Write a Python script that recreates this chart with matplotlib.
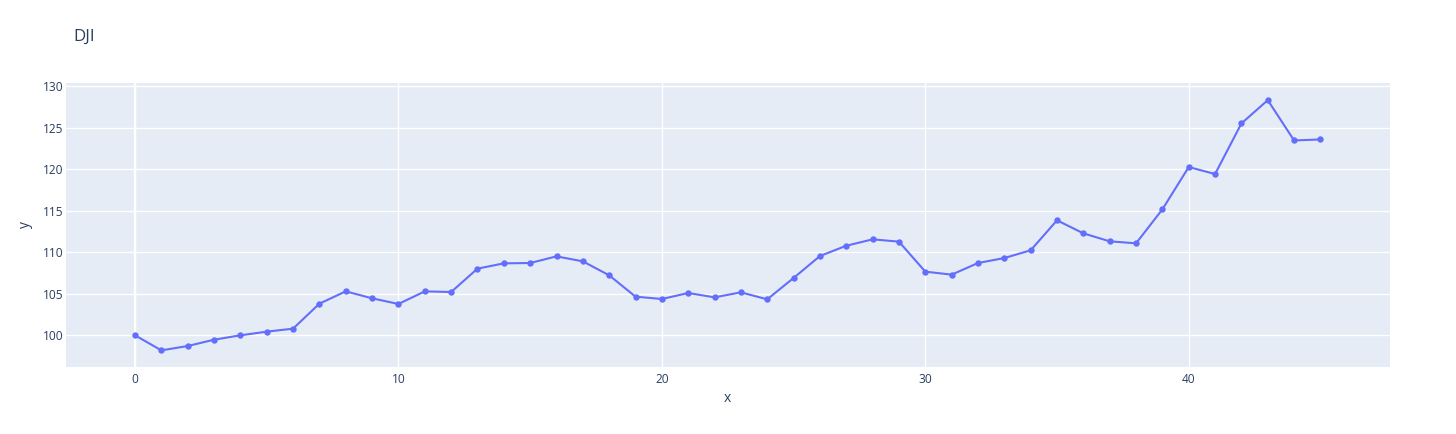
import matplotlib
matplotlib.use("Agg")
import matplotlib.pyplot as plt
import numpy as np

title = "DJI"
x_vals = list(range(46))
y_vals = [100.0, 98.19, 98.71, 99.47, 100.0, 100.44, 100.8, 103.81, 105.29, 104.45,
          103.77, 105.29, 105.21, 108.02, 108.66, 108.7, 109.5, 108.9, 107.22, 104.65,
          104.37, 105.09, 104.57, 105.17, 104.33, 106.9, 109.54, 110.78, 111.55, 111.27,
          107.66, 107.3, 108.7, 109.3, 110.23, 113.84, 112.27, 111.31, 111.07, 115.16,
          120.25, 119.41, 125.5, 128.3, 123.45, 123.57]
x_ticks = [0, 10, 20, 30, 40]
y_ticks = [100, 105, 110, 115, 120, 125, 130]

W, H = 1456, 434
fig = plt.figure(figsize=(W / 100, H / 100), dpi=100)
plt.rcParams['font.family'] = ['Open Sans', 'DejaVu Sans']
txt = '#2a3f5f'

left, right, top, bottom = 66, 1390, 82.7, 367.3
ax = fig.add_axes([left / W, 1 - bottom / H, (right - left) / W, (bottom - top) / H])
ax.set_facecolor('#e5ecf6')
for s in ax.spines.values():
    s.set_visible(False)

ax.plot(x_vals, y_vals, color='#636efa', lw=1.5, marker='o', markersize=4.6,
        markeredgewidth=0, zorder=3)

ax.set_xlim(-2.62, 47.64)
ax.set_ylim(96.15, 130.4)
ax.set_xticks(x_ticks)
ax.set_yticks(y_ticks)
ax.grid(True, color='white', lw=1.0, zorder=0)
ax.set_axisbelow(True)
ax.axvline(0, color='white', lw=1.6, zorder=1)
ax.tick_params(axis='both', length=0, labelsize=8.6, colors=txt)
ax.tick_params(axis='x', pad=4)
ax.tick_params(axis='y', pad=2)

fig.text(727 / W, 1 - 398 / H, 'x', ha='center', va='center', fontsize=10, color=txt)
fig.text(25 / W, 1 - 224 / H, 'y', ha='center', va='center', fontsize=10, color=txt, rotation=90)
fig.text(73 / W, 1 - 37 / H, title, ha='left', va='center', fontsize=12.2, color=txt)

fig.savefig('out.png', dpi=100, facecolor='white')
